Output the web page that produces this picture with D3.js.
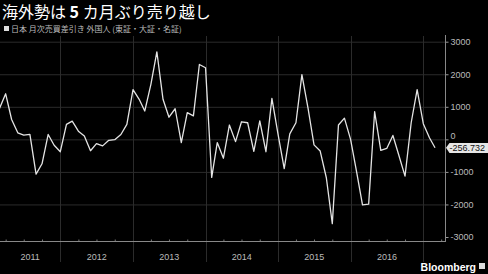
<!DOCTYPE html>
<html>
<head>
<meta charset="utf-8">
<script src="https://cdn.jsdelivr.net/npm/d3@7"></script>
<style>
  html, body { margin: 0; padding: 0; background: #000; }
  svg { display: block; font-family: "Liberation Sans", "Noto Sans CJK JP", sans-serif; }
</style>
</head>
<body>
<svg id="chart" width="488" height="274"></svg>
<script>
// monthly net buying by foreign investors, 100m yen, first point = 2011-03
const firstMonth = '2011-03';
const values = [
  950, 1400, 610, 200, 130, 150, -1070, -750, 150, -180,
  -380, 460, 560, 250, 100, -350, -130, -200, -30, -10, 150, 460,
  1530, 1230, 870, 1690, 2690, 1230, 680, 940, -100, 820, 720, 2300,
  2200, -1170, -100, -580, 440, -70, 540, 510, -370, 570, -380, 1260,
  150, -900, 170, 510, 1990, 950, -170, -360, -1180, -2590, 440, 650,
  0, -1020, -2010, -1990, 850, -340, -280, 120, -510, -1130, 510, 1530,
  480, 50, -256.732
];
const years = ['2011', '2012', '2013', '2014', '2015', '2016'];
const yTicks = [-3000, -2000, -1000, 0, 1000, 2000, 3000];
const gridTicks = [-2000, -1000, 0, 1000, 2000, 3000];
const title = ['海外勢は ', '5', ' カ月ぶり売り越し'];
const subtitle = '日本 月次売買差引き 外国人 (東証・大証・名証)';

const parseMonth = d3.timeParse('%Y-%m');
const data = values.map((v, i) => ({
  date: d3.timeMonth.offset(parseMonth(firstMonth), i),
  value: v
}));

const svg = d3.select('#chart');
const plotRight = 445, plotTop = 36, baseY = 241;

//********SCALES**********//
const x = d3.scaleTime()
    .domain([new Date(2012, 0, 1), new Date(2017, 0, 1)])
    .range([60.3, 423.3]);

const y = d3.scaleLinear()
    .domain([-3000, 3000])
    .range([237, 41.7]);

//********GRID**********//
svg.append('g')
    .selectAll('line')
    .data(gridTicks)
    .enter().append('line')
      .attr('x1', 0)
      .attr('x2', plotRight)
      .attr('y1', d => y(d) + 0.5)
      .attr('y2', d => y(d) + 0.5)
      .attr('stroke', '#2b2b2b')
      .attr('stroke-width', 1);

const yearStarts = years.map(e => new Date(+e, 0, 1));
svg.append('g')
    .selectAll('line')
    .data(yearStarts.slice(1).concat([new Date(2017, 0, 1)]))
    .enter().append('line')
      .attr('x1', d => Math.round(x(d)) + 0.5)
      .attr('x2', d => Math.round(x(d)) + 0.5)
      .attr('y1', plotTop)
      .attr('y2', 262)
      .attr('stroke', '#2b2b2b')
      .attr('stroke-width', 1);

//********X AXIS**********//
const quarters = d3.timeMonth.every(3).range(new Date(2011, 0, 1), new Date(2017, 4, 1))
    .filter(d => x(d) > 0 && x(d) < plotRight && d.getMonth() !== 0);

const axisX = svg.append('g')
    .attr('transform', `translate(0,${baseY + 0.5})`)
    .call(d3.axisTop(x).tickValues(quarters).tickSize(2).tickFormat(''));
axisX.select('.domain').remove();
axisX.selectAll('.tick line').attr('stroke', '#777');

svg.append('line')
    .attr('x1', 0).attr('x2', plotRight)
    .attr('y1', baseY + 0.5).attr('y2', baseY + 0.5)
    .attr('stroke', '#888');

svg.append('g')
    .selectAll('text')
    .data(years)
    .enter().append('text')
      .attr('x', d => {
        const a = Math.max(0, x(new Date(+d, 0, 1)));
        const b = Math.min(plotRight, x(new Date(+d + 1, 0, 1)));
        return (a + b) / 2;
      })
      .attr('y', 260)
      .attr('text-anchor', 'middle')
      .attr('fill', '#bbb')
      .attr('font-size', 9)
      .text(d => d);

//********Y AXIS**********//
const axisY = svg.append('g')
    .attr('transform', `translate(${plotRight + 0.5},0)`)
    .call(d3.axisRight(y)
      .tickValues(yTicks)
      .tickSize(3)
      .tickPadding(2)
      .tickFormat(d => String(d)));
axisY.select('.domain').remove();
axisY.selectAll('.tick line').attr('stroke', '#999');
axisY.selectAll('.tick text')
    .attr('fill', '#bbb')
    .attr('font-size', 9)
    .attr('font-family', '"Liberation Sans", sans-serif');
// the zero label sits just above the last-value tag
axisY.selectAll('.tick')
    .filter(d => d === 0)
    .select('text')
    .attr('dy', '-0.05em');

svg.append('line')
    .attr('x1', plotRight + 0.5).attr('x2', plotRight + 0.5)
    .attr('y1', 35).attr('y2', baseY + 1)
    .attr('stroke', '#888');

//********LINE**********//
const line = d3.line()
    .x(d => x(d.date))
    .y(d => y(d.value));

svg.append('path')
    .datum(data)
    .attr('fill', 'none')
    .attr('stroke', '#e4e4e4')
    .attr('stroke-width', 1.3)
    .attr('stroke-linejoin', 'round')
    .attr('d', line);

//********LAST VALUE TAG**********//
const last = data[data.length - 1];
const ly = y(last.value);
svg.append('path')
    .attr('d', `M${plotRight + 1},${ly} L${plotRight + 4.5},${ly - 4.8} L488,${ly - 4.8} L488,${ly + 5.2} L${plotRight + 4.5},${ly + 5.2} Z`)
    .attr('fill', '#e6e6e6');
svg.append('text')
    .attr('x', plotRight + 4.5)
    .attr('y', ly + 3.4)
    .attr('fill', '#111')
    .attr('font-size', 9)
    .text(d3.format('.3f')(last.value).replace('−', '-'));

//********TITLES**********//
const t = svg.append('text')
    .attr('x', 2)
    .attr('y', 18)
    .attr('fill', '#fff')
    .attr('font-size', 16)
    .attr('font-family', '"Noto Sans CJK JP", sans-serif');
t.selectAll('tspan')
    .data(title)
    .enter().append('tspan')
      .attr('font-weight', (d, i) => i === 1 ? 'bold' : 'normal')
      .text(d => d);

svg.append('rect')
    .attr('x', 4).attr('y', 26)
    .attr('width', 5).attr('height', 5)
    .attr('fill', '#ddd');
svg.append('text')
    .attr('x', 11)
    .attr('y', 32)
    .attr('fill', '#bbb')
    .attr('font-size', 8)
    .attr('font-family', '"Noto Sans CJK JP", sans-serif')
    .text(subtitle);

//********LOGO**********//
svg.append('text')
    .attr('x', 476)
    .attr('y', 271)
    .attr('text-anchor', 'end')
    .attr('fill', '#fff')
    .attr('font-size', 10.5)
    .attr('font-weight', 'bold')
    .attr('font-family', '"Liberation Sans", sans-serif')
    .text('Bloomberg');
svg.append('rect')
    .attr('x', 479).attr('y', 263)
    .attr('width', 6).attr('height', 6)
    .attr('fill', '#ddd');
</script>
</body>
</html>
